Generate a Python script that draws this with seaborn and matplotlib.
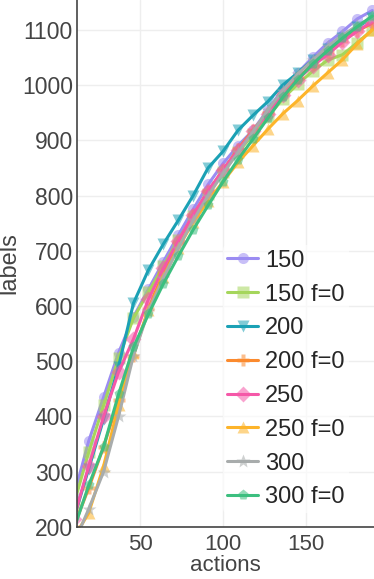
import matplotlib
matplotlib.use("Agg")
import matplotlib.pyplot as plt
from matplotlib.colors import to_rgba
import seaborn as sns

# actions (x) and number of labels for each run
actions = [10, 19, 28, 37, 46, 55, 64, 73, 82, 91, 100, 109, 118, 127, 136, 145, 154, 163, 172, 181, 190]

labels_150 = [255, 355, 435, 515, 580, 630, 680, 728, 775, 820, 858, 890, 918, 955, 993, 1022, 1050, 1076, 1097, 1120, 1135]
labels_150_f0 = [240, 335, 420, 505, 578, 625, 672, 720, 762, 802, 842, 878, 910, 942, 975, 1002, 1025, 1045, 1055, 1077, 1100]
labels_200 = [215, 305, 395, 490, 605, 665, 712, 755, 800, 850, 880, 918, 945, 970, 1000, 1022, 1045, 1065, 1085, 1105, 1122]
labels_200_f0 = [200, 270, 345, 430, 510, 595, 660, 715, 765, 808, 846, 884, 918, 950, 983, 1012, 1038, 1060, 1080, 1098, 1112]
labels_250 = [215, 310, 400, 480, 540, 612, 668, 718, 765, 808, 846, 882, 916, 948, 982, 1010, 1035, 1055, 1078, 1098, 1115]
labels_250_f0 = [180, 225, 310, 420, 515, 592, 652, 705, 752, 790, 825, 860, 890, 920, 948, 972, 998, 1022, 1046, 1075, 1100]
labels_300 = [170, 232, 300, 400, 510, 590, 650, 705, 755, 800, 840, 878, 915, 955, 990, 1020, 1045, 1070, 1090, 1108, 1122]
labels_300_f0 = [195, 275, 345, 440, 525, 585, 640, 690, 738, 782, 825, 865, 902, 940, 978, 1010, 1038, 1062, 1085, 1106, 1125]

series_names = ["150", "150 f=0", "200", "200 f=0", "250", "250 f=0", "300", "300 f=0"]
series_values = [labels_150, labels_150_f0, labels_200, labels_200_f0,
                 labels_250, labels_250_f0, labels_300, labels_300_f0]
colors = ["#9b8cf2", "#a5d65b", "#1ba1b5", "#fb8a2e", "#f558a8", "#fdb42a", "#a8acac", "#3cbf7f"]
markers = ["o", "s", "v", "P", "D", "^", "*", "p"]
y_ticks = [200, 300, 400, 500, 600, 700, 800, 900, 1000, 1100]
x_ticks = [50, 100, 150]

sns.set_style("white")
plt.rcParams["font.family"] = ["Liberation Sans", "DejaVu Sans"]

fig = plt.figure(figsize=(3.74, 5.79), dpi=100)
ax = fig.add_axes([0.206, 0.09, 0.794, 0.91])

for name, vals, col, mk in zip(series_names, series_values, colors, markers):
    sns.lineplot(x=actions, y=vals, ax=ax, color=col, linewidth=2.2, label=name,
                 marker=mk, markersize=10 if mk == "*" else 8,
                 markerfacecolor=to_rgba(col, 0.55), markeredgecolor="none")

ax.set_xlim(12, 191)
ax.set_ylim(200, 1154)
ax.set_xticks(x_ticks)
ax.set_yticks(y_ticks)
ax.grid(True, color="#eeeeee", linewidth=1)
ax.set_axisbelow(True)
for s in ["top", "right"]:
    ax.spines[s].set_visible(False)
for s in ["left", "bottom"]:
    ax.spines[s].set_color("#444444")
    ax.spines[s].set_linewidth(1.2)
ax.tick_params(axis="y", length=0, labelsize=16.5, labelcolor="#444444", pad=3)
ax.tick_params(axis="x", length=0, labelsize=16, labelcolor="#444444", pad=5)
ax.set_xlabel("actions", fontsize=16, color="#444444", labelpad=0)
ax.set_ylabel("labels", fontsize=17, color="#444444", labelpad=1)

leg = ax.legend(loc="upper left", bbox_to_anchor=(0.49, 0.535), fontsize=17,
                frameon=True, framealpha=0.6, facecolor="white", edgecolor="none",
                handlelength=1.3, handletextpad=0.3, labelspacing=0.5,
                borderpad=0.2, borderaxespad=0)

fig.savefig("out.png", dpi=100)
